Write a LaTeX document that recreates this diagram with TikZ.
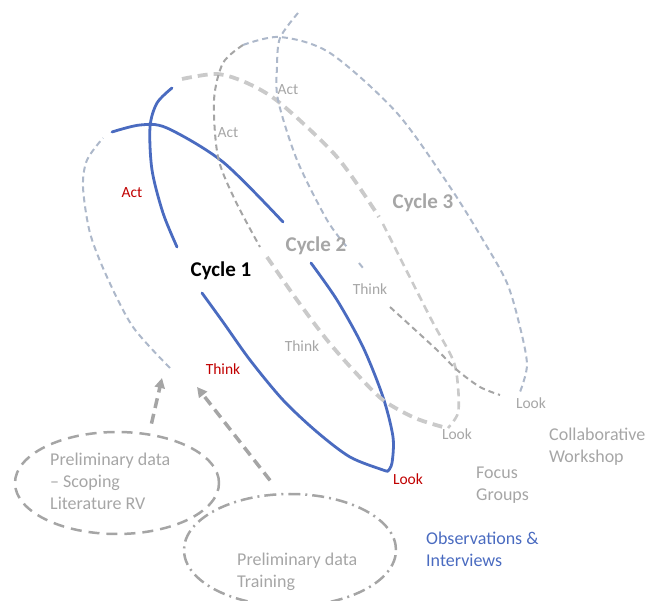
\documentclass[tikz,border=0pt]{standalone}
\usepackage{fontspec}
\setmainfont{Carlito}
\usetikzlibrary{arrows.meta,shapes.geometric,positioning}
\definecolor{cycblue}{HTML}{4A6BC0}
\definecolor{bluegray}{HTML}{ADB8CA}
\definecolor{palegray}{HTML}{CACACA}
\definecolor{midgray}{HTML}{A5A5A5}
\definecolor{txtgray}{HTML}{A6A6A6}
\definecolor{actred}{HTML}{C00000}

\begin{document}
\begin{tikzpicture}[x=1pt,y=-1pt,
    every node/.style={inner sep=0pt, font=\fontsize{15.5}{19}\selectfont},
    stage/.style={text=txtgray},
    redstage/.style={text=actred},
    cyc/.style={font=\fontsize{21}{25}\selectfont\bfseries, text=txtgray},
    note/.style={font=\fontsize{18}{22}\selectfont, align=left, anchor=west, text=txtgray},
    blueline/.style={draw=cycblue, line width=2.8pt, line cap=round},
    bgdash/.style={draw=bluegray, line width=2pt, dash pattern=on 6pt off 4pt},
    paledash/.style={draw=palegray, line width=3.8pt, dash pattern=on 10pt off 6pt},
    thinpale/.style={draw=palegray, line width=2.6pt, dash pattern=on 8pt off 5pt},
    middash/.style={draw=midgray, line width=2pt, dash pattern=on 6pt off 4pt},
    prelim/.style={ellipse, draw=midgray, line width=2.5pt},
    feed/.style={draw=midgray, line width=3.5pt, dash pattern=on 10pt off 6pt,
                 -{Triangle[length=10pt,width=10pt]}}]
    \useasboundingbox (0,0) rectangle (649,601);

    % lead-in to cycle 1
    \draw[bgdash] plot[smooth] coordinates {(170,368) (133,327) (107,277) (90,233) (83,187) (87,160) (103,138)};

    % cycle 1
    \draw[blueline] plot[smooth] coordinates {(112,132) (140,125) (167,128) (223,162) (283,222)};
    \draw[blueline] plot[smooth] coordinates {(311,263) (337,300) (363,347) (383,397) (393,437) (392,463) (388,471)};
    \draw[blueline] plot[smooth] coordinates {(388,471) (383,470) (350,457) (317,432) (283,400) (250,360) (223,322) (202,293)};
    \draw[blueline] plot[smooth] coordinates {(177,247) (163,213) (152,170) (150,127) (157,103) (172,88)};

    % cycle 2
    \draw[paledash] plot[smooth] coordinates {(182,79) (217,74) (247,83) (280,103) (337,157) (379,217)};
    \draw[thinpale] plot[smooth] coordinates {(383,224) (430,317) (453,360) (458,387) (458,413) (448,428)};
    \draw[middash] plot[smooth] coordinates {(243,45) (223,63) (214,100) (218,157) (235,200) (260,247)};
    \draw[paledash] plot[smooth] coordinates {(267,257) (297,300) (327,340) (355,372) (383,400) (415,418) (443,427)};

    % cycle 3
    \draw[bgdash] plot[smooth] coordinates {(243,45) (280,37) (330,53) (397,113) (450,187) (483,240) (507,283) (520,327) (527,365) (520,392)};
    \draw[bgdash] plot[smooth] coordinates {(298,13) (280,38) (277,67) (278,100) (297,160) (327,220) (347,247)};
    \draw[bgdash] (359,263) -- (363,268);
    \draw[middash] plot[smooth] coordinates {(390,307) (437,350) (457,370) (480,387) (500,395)};

    % stage labels
    \node[redstage] (actone) at (132,193) {Act};
    \node[cyc, text=black] (cycone) at (221,271) {Cycle 1};
    \node[redstage] (thinkone) at (223,369) {Think};
    \node[redstage] (lookone) at (408,479) {Look};
    \node[stage] (acttwo) at (228,133) {Act};
    \node[cyc] (cyctwo) at (316,246) {Cycle 2};
    \node[stage] (thinktwo) at (302,346) {Think};
    \node[stage] (looktwo) at (457,434) {Look};
    \node[stage] (actthree) at (288,90) {Act};
    \node[cyc] (cycthree) at (423,203) {Cycle 3};
    \node[stage] (thinkthree) at (370,289) {Think};
    \node[stage] (lookthree) at (531,403) {Look};

    % data sources
    \node[note] (workshop) at (549,447) {Collaborative\\Workshop};
    \node[note] (focus) at (476,485) {Focus\\Groups};
    \node[note, text=cycblue] (obs) at (426,549) {Observations \&\\Interviews};

    % preliminary data
    \node[prelim, dash pattern=on 11pt off 7pt, minimum width=204pt, minimum height=102pt] (scoping) at (117,483) {};
    \node[note] (scopingtxt) at (50,481) {Preliminary data\\– Scoping\\Literature RV};
    \node[prelim, dash pattern=on 12pt off 5pt on 2pt off 5pt, minimum width=212pt, minimum height=112pt] (training) at (290,550) {};
    \node[note] (trainingtxt) at (237,572) {Preliminary data\\Training};

    \coordinate (tipone) at (162,378);
    \coordinate (tiptwo) at (197,387);
    \draw[feed, shorten <=10pt] (scoping.57) -- (tipone);
    \draw[feed, shorten <=16pt] (training.100) -- (tiptwo);
\end{tikzpicture}
\end{document}
